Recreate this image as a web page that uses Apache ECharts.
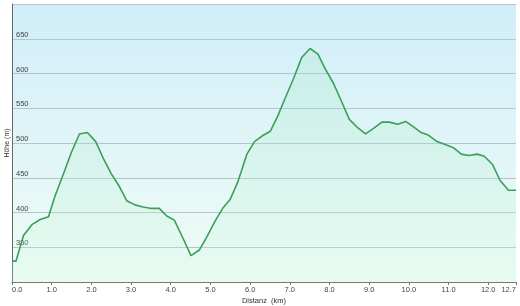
<!DOCTYPE html>
<html>
<head>
<meta charset="utf-8">
<script src="https://cdn.jsdelivr.net/npm/echarts@6/dist/echarts.min.js"></script>
<style>
html,body{margin:0;padding:0;background:#fff;}
#c{width:520px;height:306px;}
</style>
</head>
<body>
<div id="c"></div>
<script>
const distanceKm = [0, 0.1, 0.29, 0.51, 0.71, 0.92, 1.08, 1.30, 1.50, 1.70, 1.90, 2.11, 2.30, 2.50, 2.71, 2.89, 3.10, 3.30, 3.48, 3.71, 3.90, 4.09, 4.30, 4.51, 4.72, 4.91, 5.12, 5.31, 5.50, 5.69, 5.92, 6.11, 6.30, 6.51, 6.69, 6.88, 7.09, 7.30, 7.51, 7.71, 7.89, 8.10, 8.31, 8.50, 8.71, 8.91, 9.11, 9.32, 9.51, 9.72, 9.92, 10.10, 10.31, 10.50, 10.71, 10.92, 11.13, 11.32, 11.51, 11.72, 11.90, 12.11, 12.30, 12.51, 12.7];
const elevationM = [330, 330, 367, 383, 390, 394, 423, 456, 487, 513, 515, 502, 478, 456, 437, 417, 411, 408, 406, 406, 395, 389, 364, 338, 346, 365, 388, 406, 419, 444, 484, 502, 510, 517, 538, 564, 592, 623, 636, 628, 607, 586, 559, 534, 522, 513, 521, 530, 530, 527, 531, 524, 515, 511, 502, 498, 493, 484, 482, 484, 481, 469, 446, 432, 432];
const xAxisTitle = 'Distanz  (km)';
const yAxisTitle = 'Höhe (m)';

const points = distanceKm.map((d, i) => [d, elevationM[i]]);
const chart = echarts.init(document.getElementById('c'), null, {renderer: 'canvas'});
const font = 'Liberation Sans';
chart.setOption({
  animation: false,
  grid: {
    left: 12, right: 4, top: 4, bottom: 24,
    containLabel: false,
    outerBoundsMode: 'none',
    show: true,
    borderWidth: 0,
    backgroundColor: new echarts.graphic.LinearGradient(0, 0, 0, 1, [
      {offset: 0, color: '#d0eef9'},
      {offset: 1, color: '#f0fcf6'}
    ])
  },
  xAxis: {
    type: 'value',
    min: 0, max: 12.7, interval: 1,
    name: xAxisTitle,
    nameLocation: 'middle',
    nameGap: 15,
    nameMoveOverlap: false,
    nameTextStyle: {fontFamily: font, fontSize: 7.5, color: '#333'},
    axisLine: {show: true, lineStyle: {color: '#777', width: 1}},
    axisTick: {show: true, length: 3, lineStyle: {color: '#777'}},
    axisLabel: {
      fontFamily: font, fontSize: 7.5, color: '#444', margin: 4,
      formatter: v => v.toFixed(1),
      alignMinLabel: 'left', alignMaxLabel: 'right'
    },
    splitLine: {show: false}
  },
  yAxis: {
    type: 'value',
    min: 300, max: 700, interval: 50,
    name: yAxisTitle,
    nameLocation: 'middle',
    nameGap: 1.5,
    nameMoveOverlap: false,
    nameRotate: 90,
    nameTextStyle: {fontFamily: font, fontSize: 7, color: '#333'},
    axisLine: {show: true, lineStyle: {color: '#666', width: 1}},
    axisTick: {show: false},
    axisLabel: {
      inside: true, margin: 4,
      fontFamily: font, fontSize: 7.5, color: '#444',
      verticalAlign: 'bottom',
      showMinLabel: false, showMaxLabel: false
    },
    splitLine: {show: true, lineStyle: {color: '#b4c6cc', width: 1}}
  },
  series: [{
    type: 'line',
    data: points,
    symbol: 'none',
    lineStyle: {color: '#3d9d5a', width: 1.6},
    areaStyle: {
      origin: 'start',
      color: new echarts.graphic.LinearGradient(0, 0, 0, 1, [
        {offset: 0, color: 'rgba(150,225,175,0.3)'},
        {offset: 1, color: 'rgba(200,250,220,0.3)'}
      ])
    }
  }]
});
</script>
</body>
</html>
